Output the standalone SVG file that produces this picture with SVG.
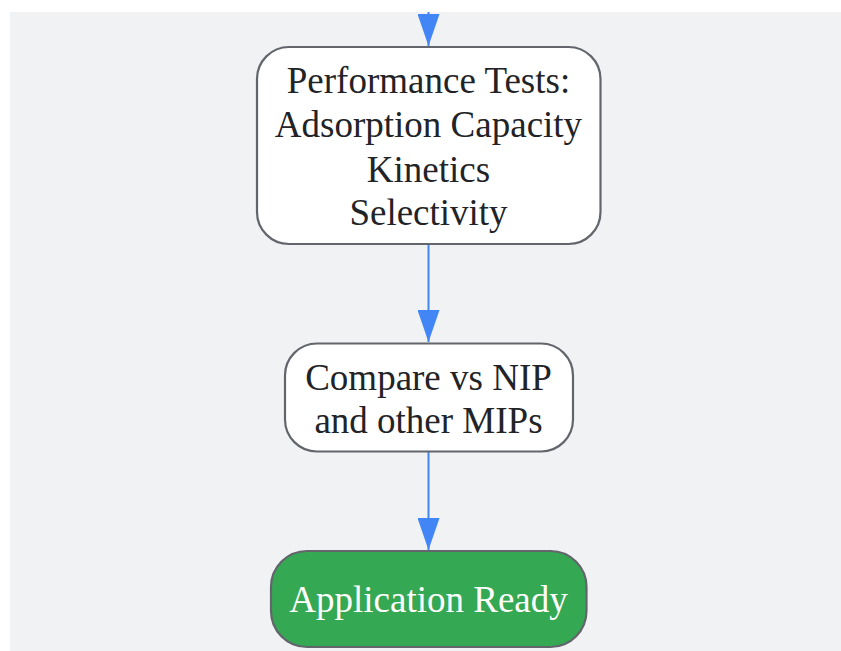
<svg xmlns="http://www.w3.org/2000/svg" width="841" height="651" viewBox="0 0 841 651">
<style>
.node rect{stroke:#62656b;stroke-width:2.2}
.lbl{font-family:"Liberation Serif","Times New Roman",serif;font-size:37px;fill:#222326;text-anchor:middle}
.white{fill:#ffffff}
.edge{stroke:#4285f4;stroke-width:2;fill:none}
</style>
<defs>
<marker id="arr" markerUnits="userSpaceOnUse" viewBox="0 0 32 22" markerWidth="32" markerHeight="22" refX="32" refY="11" orient="auto">
<path d="M0,0 L32,11 L0,22 z" fill="#4285f4"/>
</marker>
</defs>
<rect x="0" y="0" width="841" height="651" fill="#ffffff"/>
<rect x="10" y="12" width="831" height="639" fill="#f1f2f4"/>
<g id="connectors">
<path class="edge" d="M428.5,12 L428.5,46" marker-end="url(#arr)"/>
<path class="edge" d="M428.5,245 L428.5,342" marker-end="url(#arr)"/>
<path class="edge" d="M428.5,452 L428.5,550" marker-end="url(#arr)"/>
</g>
<g id="performance-tests" class="node">
<rect x="257" y="47" width="343.5" height="197" rx="32" fill="#ffffff"/>
<text class="lbl" x="428.5" y="93">Performance Tests:</text>
<text class="lbl" x="428.5" y="137">Adsorption Capacity</text>
<text class="lbl" x="428.5" y="181.5">Kinetics</text>
<text class="lbl" x="428.5" y="225">Selectivity</text>
</g>
<g id="compare" class="node">
<rect x="285" y="343.5" width="288" height="108" rx="32" fill="#ffffff"/>
<text class="lbl" x="428.5" y="390">Compare vs NIP</text>
<text class="lbl" x="428.5" y="433">and other MIPs</text>
</g>
<g id="application-ready" class="node">
<rect x="271" y="551" width="315.5" height="96" rx="36" fill="#34a853"/>
<text class="lbl white" x="428.5" y="612">Application Ready</text>
</g>
</svg>
